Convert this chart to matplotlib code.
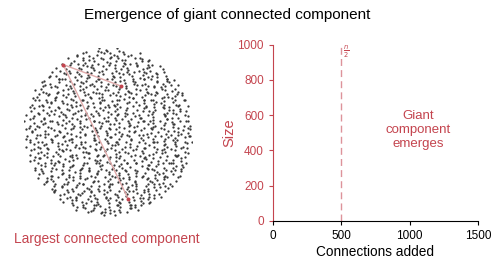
import matplotlib.pyplot as plt

plt.rcParams['font.family'] = ['Liberation Sans', 'DejaVu Sans']

red = '#c4444e'

# node layout read off the disk, one string per row
# o = centre of cell, q/p = upper left/right, b/d = lower left/right
node_rows = [
    "..q.d...p..",
    ".b...pd..q...o.b...",
    "d..q....b.p..qd...o..b..p",
    "..p..b.q...d...o.pb...q...d..",
    ".q....d..bp...o..q...d.b..p..o..b",
    "...d.q...b..p....od..q..b...d.p..q..",
    ".p...b..qd...o.p...d..b...qp..o...d.b..",
    "b..q....d..p.ob...q...d..p.b...q..do...p",
    "..d..qb...p....o..d.q...bp..o...d.q..b...p",
    ".q...d..b.p...od...q....b.d..p..o...qb..d..p.",
    "d..b...q...pd..o...b.q..d...p..qb...o..d.p...b",
    "..q..d.b...p....oq..d...b.p..q...d..o.bp...q..d..",
    ".b....p..qd..o...b..d.q...p...bo..d....q.p..b..dq.o",
    "p..d...q.....b.po..d...q..b.p...o..dq...b...p.d..q..",
    "..bq..d...p.o...b...qd..o...p.b..d....qp..b.o...d..q.p",
    ".d...p..q...bo...d.q...b..p....dq.o...b..d...q.pb...d..",
    "q..b....d.p...o..qd...b...p.q..d...ob...q.d...b..p..o.d.",
    "..b.pd...q...b.o....d..p.qb...o...d..q.b...pd..q...b..d.p",
    ".d....q..b.pd...o...q.b...d..p..qo...b...d.q..p...bd..o..q",
    "p..b.d...q.....ob..d..p...q.b...d..o..pq...b.d....q..p.b..d",
    "..q...d.bp..o....d..q.b...dp...o..q...b.d..p...qb..o..d...p.",
    ".b..d...q...p.od...b....q.p..d..bo...q...d.p...o..qb...d.b..",
    "d...qp..b..o....d.q...p..b...od..q.b...p....dq..b..o.d...q..p",
    "..p...b...d.q..ob...d..q...p.b....o..dq...b.p...d...q.bd..o...",
    ".q.d...bp...o....d.q..b..pd...o..q...b.d...p..qo....d..b.p..q",
    "b....q..d.p...ob..q...d.p...b...o.dq..p....b..d.q...pb...o..d..",
    "..dq...b....p..o.d...q..bp...d.o..b...q..p.db...o....q.d..b..p.",
    ".p...d.q..b...o....pd..q..b...d...o.p..bq...d...o..b.pq...d...b",
    "q..d....bp..o..d.q...b....p.od..q...b..d...o.p..qb...d..o....p..",
    "..b.d..q....p.o...qb..d..o...b..p.q....do..b...q.d...o..pq..d..b",
    ".d...p...qb....o..d..q.p...bd...o...q.b..p...d..oq..b...p.d...o.",
    "p..bq..d...o.b...p....q..d.o...bp..q...d..b.o...p....qd..b..o..q",
    "...q...d.b...p..od...q.b...p...o..d.qb...p....d.o..q..b...pd..o.",
    ".b..p.q....do..b...d...q..p.b..o....d..qb..p.o...d..b...q.p...db",
    "d...o...q.b...p..db..q....o...d.pq..b...d...o..q.b...dp..o...q..",
    "..q..bd...p....o.q...d.b..pq...o...b..d.p....q...bd..o..p.q..b.d",
    ".p.b...d..q.od...p...b....d.q..o..pb...d...q.o..p....b..dq...o.",
    "b...d..q....o..p..dq..b.o...d...p.q...bd..o....q.b..pd...o..b..",
    "..d..q.pb...o.d....p..q...bd..o.q...b....d..pq...o..b.d...p..q",
    ".q...b....d.po..q...d.b..p...o...qd..b.p...o....d..qb..p...d.",
    "d..p..bq...o....d.b...pq..d..b...o....q.d..p..bo...q...d.b..p",
    "..b...d..q.p...ob...d....p..q.d..bo...p...q.b....d..o..pq..b",
    ".d.pq...b....o..d.q...p..bd...o...q.b..d...po..q....b.d..p..",
    "q....d..b.po...q....d.b..p...od..q...b..d.p...o..qd...b..p.d",
    "..p.b...dq..o...b..d....p.qb...d..o.p...q...db..o...p.q..d.",
    ".b...q.d...p..oq...b.d...p....d..qb..o...p.d...q..b..dp..o",
    "d..q....p..b.o...dq..b...p.d..qo...b..d....p.qb...o..d..q",
    "..pb..q...d....o.b..p..dq...o...b.p...dq..b...o.d...q..p",
    ".q...db..p..o...d....b.q...pd..o...q..b.d....op..b..q.d",
    "b..d...p....qo..b.d...q..p...o.bd..q...p..b.d...qo...p",
    "..d.qb...p..o....q..d.b..dp...o...q.b...pd..o..q...d",
    ".p...b..d.q...od...p....b.d..q..o..pb...d.q...o..b.",
    "q..d...bp...o..q.d...b..dq...p...o.b..d...qp..b.d",
    "..b..p...d.q...ob..d...p....o.dq..b...d.p..q..o",
    ".dq...p..b...o.d...bp..q..d...o.b...qd..p...b",
    "p...d.q...bo..p....d.q..b..pd...o..q.b..d..",
    "..q..d..bp...o.q...d...pb..o.d...q..bp..d",
    ".b.p...q...d..ob..p.q...d..b...op.d..q.",
    "d...qp..b..o.d...p...qb..d.p..o...b.",
    "..p...d.q..bo...p..d.q...bd..p..q",
    ".qd..b...p.o..d...qb..p.d..q.",
    "b..p..dq...o.b..d...pq.d.",
    ".d.q...bo..p..b.d..",
    "..pd..q.b..",
]
sub_pos = {'o': (0, 0), 'q': (-0.35, -0.35), 'p': (0.35, -0.35),
           'b': (-0.35, 0.35), 'd': (0.35, 0.35)}

# largest connected component (grid units)
comp_x = [14.9, 37.0, 39.8]
comp_y = [6.5, 14.7, 57.9]
comp_edges = [(0, 1), (0, 2)]

n_nodes = 1000
x_ticks = [0, 500, 1000, 1500]
y_ticks = [0, 200, 400, 600, 800, 1000]

fig = plt.figure(figsize=(5, 2.64), dpi=100)

# left: random graph
ax0 = fig.add_axes([24 / 500, 1 - 215.5 / 264, 168 / 500, 168 / 264])
xs, ys = [], []
for r, row in enumerate(node_rows):
    start = 32 - len(row) / 2
    for i, ch in enumerate(row):
        if ch in sub_pos:
            dx, dy = sub_pos[ch]
            xs.append(start + i + 0.5 + dx)
            ys.append(r + 0.5 + dy)
ax0.scatter(xs, ys, s=2.7, color='#383838', linewidths=0)
for i, j in comp_edges:
    ax0.plot([comp_x[i], comp_x[j]], [comp_y[i], comp_y[j]],
             color='#e0aaaa', lw=1, zorder=3)
ax0.scatter(comp_x, comp_y, s=8, color=red, linewidths=0, zorder=4)
ax0.set_xlim(0, 64)
ax0.set_ylim(64, 0)
ax0.axis('off')

fig.text(107 / 500, 1 - 239 / 264, 'Largest connected component',
         ha='center', va='center', color=red, fontsize=9.9)
fig.text(227 / 500, 1 - 15 / 264, 'Emergence of giant connected component',
         ha='center', va='center', fontsize=11)

# right: size vs connections
ax = fig.add_axes([273 / 500, 1 - 220.7 / 264, 205 / 500, 176 / 264])
ax.set_xlim(0, 1500)
ax.set_ylim(0, 1000)
ax.set_xticks(x_ticks)
ax.set_yticks(y_ticks)
ax.spines['top'].set_visible(False)
ax.spines['right'].set_visible(False)
ax.spines['left'].set_color(red)
ax.tick_params(axis='y', colors=red, labelsize=8.5, length=3)
ax.tick_params(axis='x', labelsize=8.5, length=3)
ax.set_xlabel('Connections added', fontsize=9.8, labelpad=2)
ax.set_ylabel('Size', color=red, fontsize=10.5, labelpad=1)

ax.axvline(n_nodes / 2, color='#dd939a', lw=1, ls=(0, (5, 3)))
ax.text(534, 962, r'$\frac{n}{2}$', color=red, fontsize=7,
        ha='center', va='center')
ax.text(1061, 515, 'Giant\ncomponent\nemerges', color=red, fontsize=9.5,
        ha='center', va='center', linespacing=1.2)

fig.savefig('out.png', dpi=100)
